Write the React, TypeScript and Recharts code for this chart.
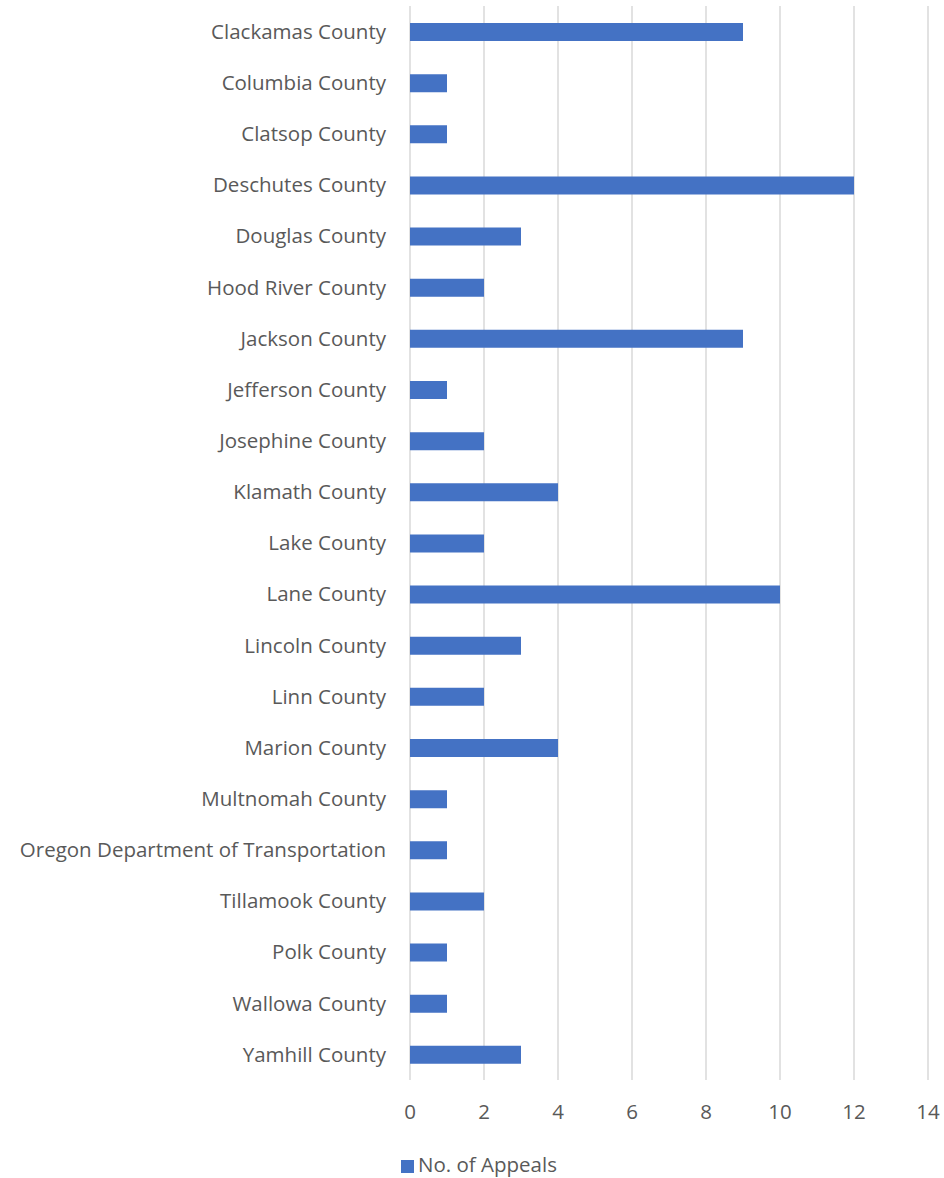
import React from 'react';
import { BarChart, Bar, XAxis, YAxis, CartesianGrid, Legend } from 'recharts';

const categories = [
  'Clackamas County', 'Columbia County', 'Clatsop County', 'Deschutes County', 'Douglas County',
  'Hood River County', 'Jackson County', 'Jefferson County', 'Josephine County', 'Klamath County',
  'Lake County', 'Lane County', 'Lincoln County', 'Linn County', 'Marion County',
  'Multnomah County', 'Oregon Department of Transportation', 'Tillamook County', 'Polk County',
  'Wallowa County', 'Yamhill County',
];
const appeals = [9, 1, 1, 12, 3, 2, 9, 1, 2, 4, 2, 10, 3, 2, 4, 1, 1, 2, 1, 1, 3];
const xTicks = [0, 2, 4, 6, 8, 10, 12, 14];

const data = categories.map((name, i) => ({ name, value: appeals[i] }));

const FONT = "'Open Sans', 'Liberation Sans', sans-serif";
const TEXT = '#595959';

export default function App() {
  return (
    <div style={{ position: 'absolute', left: 0, top: 0, width: 944, height: 1178, background: '#fff' }}>
      <BarChart
        width={944}
        height={1178}
        data={data}
        layout="vertical"
        margin={{ top: 6, right: 16, bottom: 58, left: 0 }}
        barCategoryGap={0}
      >
        <CartesianGrid horizontal={false} vertical={true} stroke="#d9d9d9" strokeWidth={1.5} />
        <XAxis
          type="number"
          domain={[0, 14]}
          ticks={xTicks}
          axisLine={false}
          tickLine={false}
          tickSize={0}
          tickMargin={24}
          height={40}
          interval={0}
          tick={{ fill: TEXT, fontSize: 20.5, fontFamily: FONT }}
        />
        <YAxis
          type="category"
          dataKey="name"
          width={410}
          axisLine={false}
          tickLine={false}
          tickSize={0}
          tickMargin={24}
          interval={0}
          tick={{ fill: TEXT, fontSize: 20.5, fontFamily: FONT }}
        />
        <Legend
          layout="horizontal"
          verticalAlign="middle"
          align="center"
          iconType="square"
          iconSize={13}
          wrapperStyle={{ top: 1150, left: 12, width: 944, fontFamily: FONT, fontSize: 20.5 }}
          formatter={(v) => <span style={{ color: TEXT }}>{v}</span>}
        />
        <Bar dataKey="value" name="No. of Appeals" fill="#4472C4" barSize={18} isAnimationActive={false} />
      </BarChart>
    </div>
  );
}
